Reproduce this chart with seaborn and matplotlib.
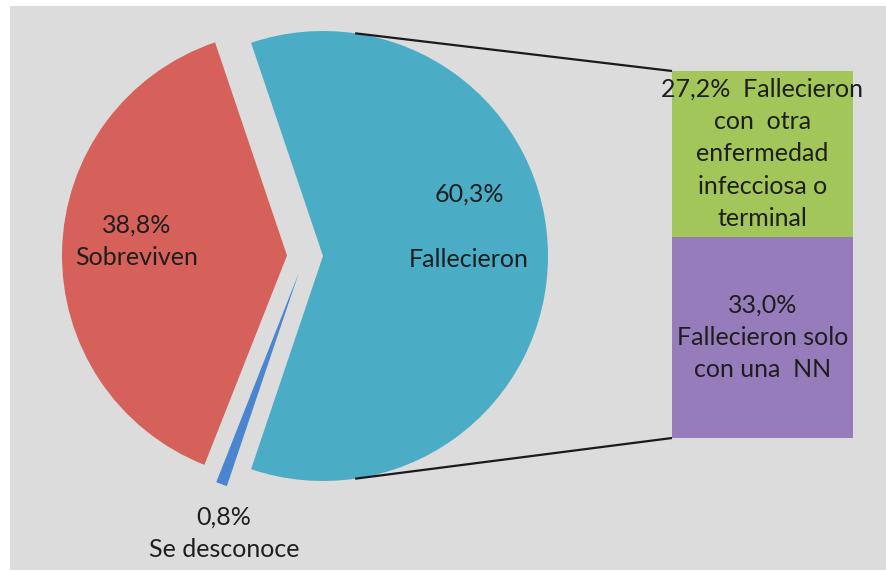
import matplotlib
matplotlib.use("Agg")
import matplotlib.pyplot as plt
import seaborn as sns
import numpy as np
import pandas as pd
from matplotlib.patches import Rectangle

# Outcome of the cases (percent)
pie_labels = ["Fallecieron", "Sobreviven", "Se desconoce"]
pie_values = [60.3, 38.8, 0.8]
pie_colors = ["#4bacc6", "#d6615b", "#4a86cf"]

# Breakdown of the deceased
bar_labels = ["Fallecieron solo\ncon una  NN",
              "Fallecieron\ncon  otra\nenfermedad\ninfecciosa o\nterminal"]
bar_values = [33.0, 27.2]
bar_colors = ["#977cbb", "#a3c65a"]


def pct(v):
    return f"{v:.1f}".replace(".", ",") + "%"


sns.set_theme(style="white")
plt.rcParams["font.family"] = ["Lato", "DejaVu Sans"]

W, H = 887, 572
fig = plt.figure(figsize=(W / 100, H / 100), dpi=100, facecolor="white")

# Pixel-based canvas axes holding the background and the pie
ax = fig.add_axes([0, 0, 1, 1])
ax.add_patch(Rectangle((10, 2), W - 10, 564, facecolor="#dcdcdc",
                       edgecolor="none", zorder=0))

total = sum(pie_values)
start = -180 * pie_values[0] / total
radius = 225
wedges, _ = ax.pie(pie_values, colors=pie_colors, explode=[18] * 3,
                   startangle=start, radius=radius, center=(305, 316),
                   wedgeprops=dict(linewidth=0))
ax.set_xlim(0, W)
ax.set_ylim(0, H)
ax.set_aspect("equal")
ax.axis("off")

txt = dict(ha="center", va="center", fontsize=18, color="#1e1e1e",
           linespacing=1.5)
ax.text(137, 331, f"{pct(pie_values[1])}\n{pie_labels[1]}", **txt)
ax.text(469, 345, f"{pct(pie_values[0])}\n\n{pie_labels[0]}", **txt)
ax.text(224, 39, f"{pct(pie_values[2])}\n{pie_labels[2]}", **txt)

# Stacked bar with the breakdown of the deceased
bax = fig.add_axes([672 / W, (H - 438) / H, 181 / W, 367 / H])
stack_total = sum(bar_values)
df_top = pd.DataFrame({"g": ["Fallecieron"], "v": [stack_total]})
df_bot = pd.DataFrame({"g": ["Fallecieron"], "v": [bar_values[0]]})
sns.barplot(data=df_top, x="g", y="v", color=bar_colors[1], saturation=1,
            width=1, ax=bax, linewidth=0)
sns.barplot(data=df_bot, x="g", y="v", color=bar_colors[0], saturation=1,
            width=1, ax=bax, linewidth=0)
bax.set_xlim(-0.5, 0.5)
bax.set_ylim(0, stack_total)
bax.axis("off")

green_txt = f"{pct(bar_values[1])}  " + bar_labels[1]
bax.text(0, bar_values[0] + bar_values[1] / 2, green_txt, clip_on=False, **txt)
bax.text(0, bar_values[0] / 2, f"{pct(bar_values[0])}\n{bar_labels[0]}", **txt)

# Connector lines from the deceased slice to the bar
fig.canvas.draw()
to_px = ax.transData.inverted()
w0 = wedges[0]
cx, cy = w0.center
r = w0.r
bar_tl = to_px.transform(bax.transData.transform((-0.5, stack_total)))
bar_bl = to_px.transform(bax.transData.transform((-0.5, 0)))
for ang, end in [(81.8, bar_tl), (-81.8, bar_bl)]:
    sx = cx + r * np.cos(np.radians(ang))
    sy = cy + r * np.sin(np.radians(ang))
    ax.plot([sx, end[0]], [sy, end[1]], color="#1a1a1a", lw=1.6,
            solid_capstyle="butt", zorder=5)

fig.savefig("out.png", dpi=100, facecolor="white")
